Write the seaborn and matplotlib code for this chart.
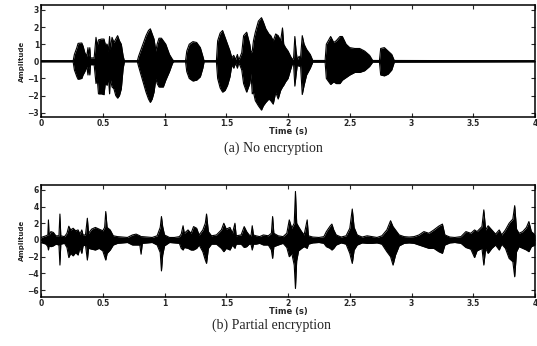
import numpy as np
import matplotlib
matplotlib.use("Agg")
import matplotlib.pyplot as plt
import seaborn as sns

# --- envelope of the clean speech signal ---
t_a = [0.00, 0.26, 0.27, 0.29, 0.30, 0.33, 0.34, 0.355, 0.37, 0.38, 0.385, 0.395, 0.40, 0.43,
       0.445, 0.455, 0.465, 0.49, 0.51, 0.52, 0.535, 0.545, 0.555, 0.56, 0.575, 0.59, 0.605,
       0.62, 0.635, 0.65, 0.665, 0.675, 0.78, 0.79, 0.81, 0.83, 0.85, 0.87, 0.885, 0.90, 0.915,
       0.93, 0.94, 0.955, 0.975, 0.99, 1.01, 1.04, 1.065, 1.075, 1.17, 1.18, 1.20, 1.23, 1.26,
       1.29, 1.31, 1.32, 1.42, 1.43, 1.45, 1.47, 1.49, 1.51, 1.53, 1.545, 1.56, 1.575, 1.59,
       1.60, 1.625, 1.64, 1.665, 1.69, 1.70, 1.71, 1.72, 1.735, 1.76, 1.785, 1.80, 1.82, 1.845,
       1.86, 1.88, 1.90, 1.92, 1.94, 1.955, 1.965, 1.98, 2.00, 2.02, 2.035, 2.045, 2.055, 2.065,
       2.075, 2.09, 2.10, 2.115, 2.13, 2.15, 2.18, 2.20, 2.30, 2.31, 2.345, 2.37, 2.39, 2.42,
       2.44, 2.47, 2.50, 2.54, 2.58, 2.62, 2.66, 2.685, 2.74, 2.75, 2.78, 2.81, 2.84, 2.86, 4.00]
hi_a = [0.03, 0.03, 0.4, 0.8, 1.05, 1.07, 0.9, 0.5, 0.3, 0.8, 0.3, 0.8, 0.2, 0.2,
        1.4, 0.9, 1.25, 1.3, 1.3, 1.0, 1.0, 0.6, 1.45, 0.7, 1.4, 1.1, 1.3,
        1.5, 1.2, 1.0, 0.3, 0.03, 0.03, 0.3, 0.7, 1.1, 1.5, 1.8, 1.9, 1.6, 1.3,
        0.6, 1.0, 1.35, 1.35, 1.2, 1.0, 0.4, 0.1, 0.03, 0.03, 0.6, 1.0, 1.15, 1.1,
        0.8, 0.3, 0.03, 0.03, 1.2, 1.65, 1.8, 1.4, 1.0, 0.6, 0.2, 0.35, 0.1, 0.4,
        0.05, 0.5, 1.5, 1.7, 1.0, 0.5, 0.6, 1.2, 1.7, 2.35, 2.55, 2.3, 1.9, 1.6,
        1.5, 1.2, 1.6, 1.5, 1.2, 1.95, 1.0, 0.8, 0.6, 0.3, 0.1, 0.2, 1.45, 0.6,
        0.1, 0.3, 0.1, 1.5, 1.0, 0.7, 0.4, 0.05, 0.05, 1.0, 1.45, 1.1, 1.2, 1.45,
        1.45, 1.0, 0.8, 0.75, 0.75, 0.6, 0.35, 0.05, 0.05, 0.75, 0.8, 0.6, 0.4, 0.05, 0.03]
lo_a = [-0.03, -0.03, -0.5, -0.9, -1.05, -1.0, -0.8, -0.6, -0.3, -0.8, -0.3, -0.8, -0.2, -0.2,
        -1.3, -1.0, -1.9, -1.9, -1.95, -1.3, -1.4, -0.9, -1.9, -1.0, -1.5, -1.6, -2.0,
        -2.15, -2.0, -1.6, -0.4, -0.03, -0.03, -0.3, -0.8, -1.3, -1.8, -2.2, -2.4, -2.2, -1.8,
        -1.0, -1.3, -1.5, -1.5, -1.5, -1.1, -0.6, -0.1, -0.03, -0.03, -0.6, -1.0, -1.15, -1.1,
        -0.9, -0.4, -0.03, -0.03, -1.0, -1.55, -1.8, -1.7, -1.4, -0.9, -0.2, -0.4, -0.1, -0.4,
        -0.05, -0.5, -1.3, -1.8, -1.3, -0.7, -1.9, -1.8, -2.3, -2.6, -2.85, -2.6, -2.4, -2.2,
        -2.3, -2.5, -1.8, -2.2, -1.7, -1.5, -1.4, -1.2, -1.0, -0.5, -0.15, -0.2, -1.45, -0.8,
        -0.2, -0.3, -0.1, -1.94, -1.4, -0.8, -0.4, -0.05, -0.05, -1.0, -1.35, -1.2, -1.3, -1.3,
        -1.1, -0.95, -0.8, -0.65, -0.65, -0.55, -0.3, -0.05, -0.05, -0.8, -0.85, -0.75, -0.5, -0.05, -0.03]

# --- envelope of the partially encrypted signal ---
t_b = [0.00, 0.04, 0.055, 0.06, 0.065, 0.08, 0.10, 0.12, 0.145, 0.153, 0.16, 0.19, 0.21, 0.225,
       0.24, 0.26, 0.28, 0.30, 0.315, 0.33, 0.34, 0.36, 0.375, 0.385, 0.41, 0.44, 0.47, 0.50,
       0.515, 0.524, 0.535, 0.56, 0.585, 0.62, 0.66, 0.70, 0.74, 0.77, 0.80, 0.81, 0.82, 0.86,
       0.90, 0.94, 0.965, 0.975, 0.985, 1.00, 1.04, 1.08, 1.12, 1.135, 1.15, 1.16, 1.19, 1.215,
       1.235, 1.26, 1.28, 1.31, 1.33, 1.34, 1.355, 1.38, 1.42, 1.46, 1.48, 1.50, 1.53, 1.55,
       1.57, 1.58, 1.62, 1.645, 1.665, 1.685, 1.70, 1.71, 1.72, 1.74, 1.77, 1.80, 1.84, 1.865,
       1.875, 1.885, 1.92, 1.96, 1.99, 2.01, 2.03, 2.05, 2.06, 2.07, 2.085, 2.11, 2.13, 2.155,
       2.165, 2.20, 2.25, 2.29, 2.31, 2.34, 2.355, 2.37, 2.39, 2.43, 2.47, 2.50, 2.52, 2.535,
       2.56, 2.60, 2.64, 2.68, 2.72, 2.76, 2.80, 2.83, 2.85, 2.87, 2.90, 2.94, 2.98, 3.02,
       3.06, 3.10, 3.14, 3.18, 3.22, 3.25, 3.27, 3.31, 3.35, 3.40, 3.44, 3.48, 3.51, 3.53,
       3.57, 3.585, 3.60, 3.62, 3.65, 3.68, 3.71, 3.73, 3.76, 3.79, 3.82, 3.835, 3.85, 3.87,
       3.90, 3.93, 3.95, 3.97, 4.00]
hi_b = [0.3, 0.5, 0.6, 2.4, 0.6, 1.0, 0.9, 0.5, 0.5, 3.1, 0.5, 0.4, 0.8, 1.65,
        1.2, 1.4, 1.1, 1.2, 0.7, 1.2, 0.6, 0.6, 2.6, 0.8, 1.3, 1.5, 1.3, 1.1,
        1.5, 3.4, 1.5, 1.2, 0.5, 0.4, 0.35, 0.3, 0.6, 0.7, 0.5, 0.4, 0.4, 0.35,
        0.3, 0.5, 1.5, 2.8, 1.6, 0.6, 0.3, 0.3, 0.4, 0.7, 1.7, 0.8, 1.2, 0.8,
        1.6, 1.4, 0.6, 1.2, 2.0, 3.1, 1.0, 0.5, 0.6, 1.2, 2.0, 1.3, 1.5, 0.8,
        2.0, 0.5, 0.6, 1.6, 1.0, 0.6, 0.5, 1.7, 0.6, 0.5, 0.4, 0.6, 0.5, 0.8,
        2.8, 0.8, 0.5, 0.4, 0.8, 2.4, 1.4, 2.0, 5.8, 2.0, 1.6, 1.0, 0.6, 2.4,
        0.5, 0.35, 0.3, 0.4, 1.0, 1.65, 1.9, 1.2, 0.6, 0.35, 0.5, 1.4, 3.7, 1.5,
        0.6, 0.35, 0.5, 0.4, 0.3, 0.5, 1.2, 2.3, 1.6, 1.2, 0.6, 0.4, 0.35, 0.4,
        0.6, 1.0, 0.8, 1.2, 1.65, 1.9, 0.6, 0.35, 0.3, 0.4, 1.0, 0.8, 1.2, 1.0,
        1.6, 3.6, 1.2, 1.7, 1.2, 0.7, 1.2, 0.6, 1.2, 2.0, 2.5, 4.1, 1.3, 0.8,
        1.0, 1.5, 2.2, 1.0, 0.6]
lo_b = [-0.3, -0.5, -0.8, -1.2, -0.7, -0.8, -0.7, -0.5, -0.6, -3.0, -0.5, -0.4, -0.9, -2.1,
        -1.6, -1.9, -1.5, -1.8, -0.9, -1.6, -0.7, -0.6, -2.4, -1.0, -1.1, -1.2, -1.0, -1.3,
        -2.0, -2.4, -1.6, -1.2, -0.6, -0.4, -0.35, -0.3, -0.6, -0.6, -0.6, -1.7, -0.4, -0.35,
        -0.3, -0.6, -1.5, -3.7, -1.8, -0.7, -0.3, -0.35, -0.4, -1.0, -1.2, -0.9, -1.0, -1.2,
        -1.2, -1.0, -0.6, -1.4, -2.4, -2.8, -1.0, -0.5, -0.5, -1.0, -1.4, -1.0, -1.2, -0.6,
        -1.0, -0.5, -0.5, -0.9, -0.8, -0.5, -0.5, -1.2, -0.5, -0.5, -0.4, -0.6, -0.6, -1.2,
        -2.2, -0.8, -0.6, -0.4, -0.9, -2.0, -1.6, -3.0, -5.8, -2.5, -1.3, -1.0, -0.8, -1.0,
        -0.5, -0.35, -0.3, -0.4, -0.8, -1.0, -1.2, -1.0, -0.6, -0.35, -0.5, -1.6, -2.8, -1.2,
        -0.6, -0.35, -0.4, -0.4, -0.35, -0.5, -1.4, -2.0, -3.0, -1.8, -0.7, -0.4, -0.35, -0.4,
        -0.6, -0.8, -1.0, -1.0, -1.4, -1.6, -0.6, -0.35, -0.3, -0.4, -0.9, -1.1, -2.1, -1.3,
        -1.0, -3.0, -1.0, -1.6, -1.0, -0.6, -1.2, -0.5, -1.0, -2.2, -2.6, -4.4, -1.4, -0.8,
        -1.0, -1.2, -1.4, -0.8, -0.6]

x_ticks = [0, 0.5, 1, 1.5, 2, 2.5, 3, 3.5, 4]
x_ticklabels = ["0", "0.5", "1", "1.5", "2", "2.5", "3", "3.5", "4"]

sns.set_style("ticks")
plt.rcParams["font.family"] = ["DejaVu Sans"]

fig = plt.figure(figsize=(5.37, 3.46), dpi=100)
ax1 = fig.add_axes([0.0764, 0.662, 0.92, 0.324])
ax2 = fig.add_axes([0.0764, 0.142, 0.92, 0.324])


def draw_wave(ax, t, hi, lo):
    ax.fill_between(t, lo, hi, color="black", linewidth=0)
    sns.lineplot(x=t, y=hi, ax=ax, color="black", linewidth=0.8, sort=False)
    sns.lineplot(x=t, y=lo, ax=ax, color="black", linewidth=0.8, sort=False)
    ax.axhline(0, color="black", linewidth=1.2)


def style_axis(ax, yticks, ylim):
    ax.set_xlim(0, 4)
    ax.set_ylim(*ylim)
    ax.set_xticks(x_ticks)
    ax.set_xticklabels(x_ticklabels)
    ax.set_yticks(yticks)
    ax.tick_params(direction="in", top=True, right=True, length=3, width=0.8,
                   labelsize=5.5, pad=1.5)
    for lab in ax.get_xticklabels() + ax.get_yticklabels():
        lab.set_fontweight("bold")
    for s in ax.spines.values():
        s.set_linewidth(1.1)
        s.set_color("black")
    ax.set_xlabel("Time (s)", fontsize=6, fontweight="bold", labelpad=-1)
    ax.set_ylabel("Amplitude", fontsize=5, fontweight="bold", labelpad=2)


draw_wave(ax1, t_a, hi_a, lo_a)
style_axis(ax1, [-3, -2, -1, 0, 1, 2, 3], (-3.25, 3.3))

draw_wave(ax2, t_b, hi_b, lo_b)
style_axis(ax2, [-6, -4, -2, 0, 2, 4, 6], (-6.8, 6.6))

fig.text(0.51, 0.572, "(a) No encryption", ha="center", va="center",
         fontsize=10, family="Liberation Serif")
fig.text(0.505, 0.06, "(b) Partial encryption", ha="center", va="center",
         fontsize=10, family="Liberation Serif")

fig.savefig("out.png", dpi=100)
